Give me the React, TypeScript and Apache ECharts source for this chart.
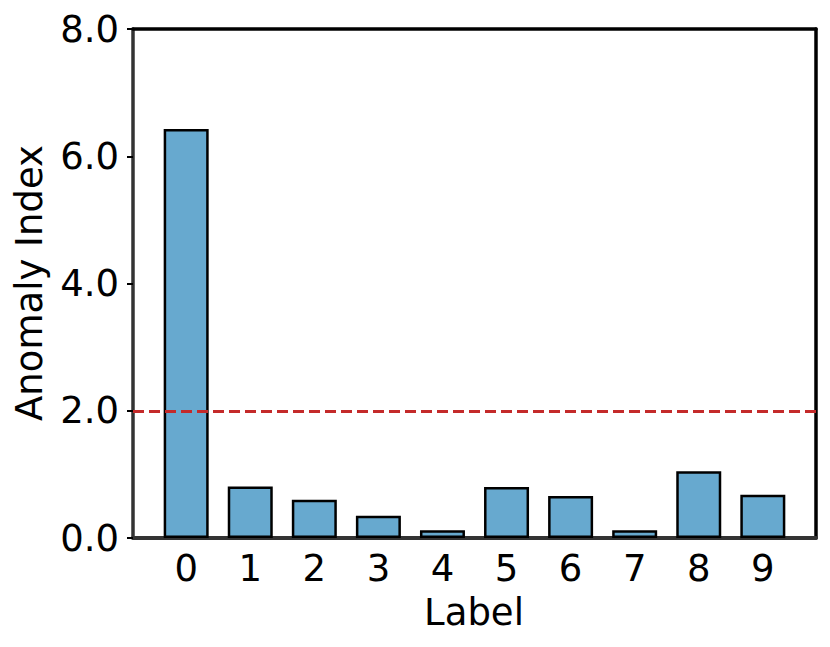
import React, { useEffect, useRef } from "react";
import * as echarts from "echarts";

const categories = ["0", "1", "2", "3", "4", "5", "6", "7", "8", "9"];
const anomalyIndex = [6.43, 0.81, 0.6, 0.35, 0.12, 0.8, 0.66, 0.12, 1.05, 0.68];
const threshold = 2.0;

const FONT = "DejaVu Sans";
const FS = 37;

export default function App() {
  const ref = useRef<HTMLDivElement>(null);
  useEffect(() => {
    if (!ref.current) return;
    const chart = echarts.init(ref.current, undefined, { renderer: "svg" });
    const catIdx = categories.map((_, i) => i);
    chart.setOption({
      animation: false,
      backgroundColor: "#ffffff",
      grid: { left: 133, right: 14, top: 29, bottom: 109, containLabel: false },
      xAxis: [
        {
          type: "value",
          position: "bottom",
          min: -0.83,
          max: 9.83,
          axisLine: { show: true, onZero: false, lineStyle: { color: "#333333", width: 4 } },
          axisTick: { show: false },
          splitLine: { show: false },
          axisLabel: {
            customValues: catIdx,
            formatter: (v: number) => categories[Math.round(v)] ?? "",
            fontSize: FS,
            fontFamily: FONT,
            color: "#000",
            margin: 12,
          },
        },
        {
          type: "value",
          position: "top",
          min: -0.83,
          max: 9.83,
          axisLine: { show: true, onZero: false, lineStyle: { color: "#000", width: 3.5 } },
          axisTick: { show: false },
          axisLabel: { show: false },
          splitLine: { show: false },
        },
      ],
      yAxis: [
        {
          type: "value",
          position: "left",
          min: 0,
          max: 8,
          interval: 2,
          axisLine: { show: true, onZero: false, lineStyle: { color: "#333333", width: 3.5 } },
          axisTick: {
            show: true,
            inside: false,
            length: 6,
            lineStyle: { color: "#000", width: 2 },
          },
          splitLine: { show: false },
          axisLabel: {
            formatter: (v: number) => v.toFixed(1),
            fontSize: FS,
            fontFamily: FONT,
            color: "#000",
            margin: 14,
          },
        },
        {
          type: "value",
          position: "right",
          min: 0,
          max: 8,
          interval: 2,
          axisLine: { show: true, onZero: false, lineStyle: { color: "#000", width: 3.5 } },
          axisTick: { show: false },
          axisLabel: { show: false },
          splitLine: { show: false },
        },
      ],
      series: [
        {
          type: "bar",
          xAxisIndex: 0,
          yAxisIndex: 0,
          data: anomalyIndex.map((v, i) => [i, v]),
          barWidth: 45,
          itemStyle: { color: "#67a9cf", borderColor: "#000", borderWidth: 2.5 },
          markLine: {
            silent: true,
            symbol: "none",
            label: { show: false },
            lineStyle: { color: "#c42a2a", type: [11, 5], width: 3 },
            data: [{ yAxis: threshold }],
          },
        },
      ],
      graphic: [
        {
          type: "text",
          x: 474,
          y: 612,
          style: {
            text: "Label",
            font: `${FS}px "${FONT}"`,
            fill: "#000",
            align: "center",
            verticalAlign: "middle",
          },
        },
        {
          type: "text",
          x: 29,
          y: 283,
          rotation: Math.PI / 2,
          style: {
            text: "Anomaly Index",
            font: `${FS}px "${FONT}"`,
            fill: "#000",
            align: "center",
            verticalAlign: "middle",
          },
        },
      ],
    });
    return () => chart.dispose();
  }, []);
  return (
    <div
      ref={ref}
      style={{ position: "absolute", left: 0, top: 0, width: 830, height: 647 }}
    />
  );
}
